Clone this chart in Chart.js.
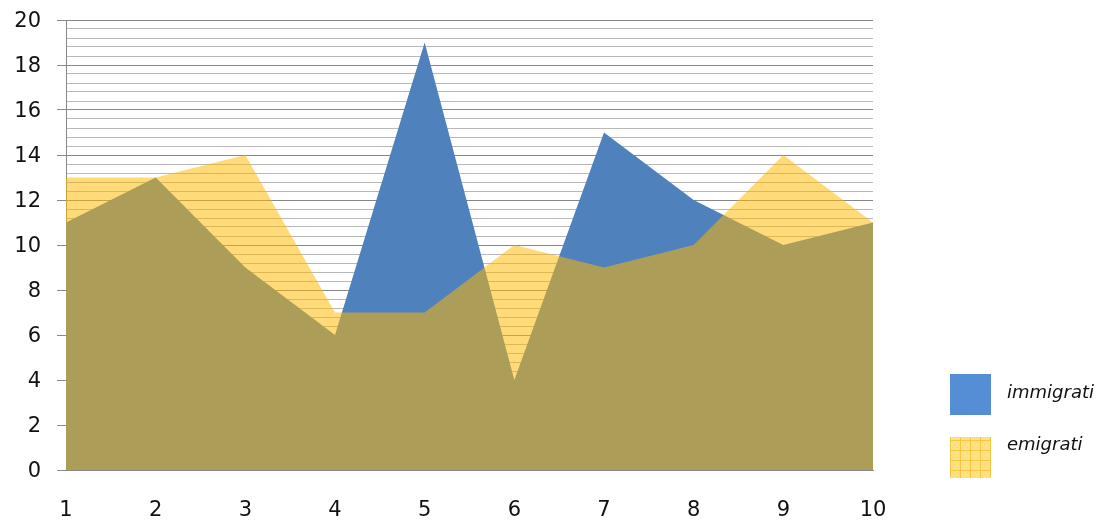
<!DOCTYPE html>
<html>
<head>
<meta charset="utf-8">
<style>
  html, body { margin: 0; padding: 0; background: #ffffff; }
  #wrap { width: 1107px; height: 523px; position: relative; }
</style>
<script src="https://cdn.jsdelivr.net/npm/chart.js@4.4.1/dist/chart.umd.min.js"></script>
</head>
<body>
<div id="wrap"><canvas id="chart" width="1107" height="523"></canvas></div>
<script>
// Categories on the horizontal axis
const categories = ['1', '2', '3', '4', '5', '6', '7', '8', '9', '10'];

// Series values
const immigrati = [11, 13, 9, 6, 19, 4, 15, 12, 10, 11];
const emigrati  = [13, 13, 14, 7, 7, 10, 9, 10, 14, 11];

// Series names
const seriesNames = ['immigrati', 'emigrati'];

// Labelled values on the vertical axis (minor grid lines fall between them)
const yLabelTicks = [0, 2, 4, 6, 8, 10, 12, 14, 16, 18, 20];
const yMinorStep = 0.4;

const BLUE = '#4F81BD';
const YELLOW_FILL = 'rgba(255, 186, 0, 0.53)';
const MAJOR_GRID = '#888888';
const MINOR_GRID = '#B8B8B8';

function isLabelled(v) {
  return yLabelTicks.some(t => Math.abs(t - v) < 1e-6);
}

// Checked yellow swatch used in the legend
function makeYellowPattern(ctx) {
  const c = document.createElement('canvas');
  c.width = 10; c.height = 10;
  const g = c.getContext('2d');
  g.fillStyle = '#FFE184';
  g.fillRect(0, 0, 10, 10);
  g.fillStyle = '#F5C842';
  g.fillRect(0, 0, 10, 1);
  g.fillRect(0, 0, 1, 10);
  g.fillStyle = '#F9D566';
  g.fillRect(4, 4, 1, 1);
  g.fillRect(7, 2, 1, 1);
  g.fillRect(2, 7, 1, 1);
  g.fillRect(7, 7, 1, 1);
  return ctx.createPattern(c, 'repeat');
}

// Legend drawn at the right side with large square swatches
const sideLegend = {
  id: 'sideLegend',
  afterDraw(chart) {
    const ctx = chart.ctx;
    const items = [
      { label: chart.data.datasets[0].label, fill: '#558ED5', y: 374, textY: 393 },
      { label: chart.data.datasets[1].label, fill: makeYellowPattern(ctx), y: 437, textY: 445 }
    ];
    ctx.save();
    items.forEach(it => {
      ctx.fillStyle = it.fill;
      ctx.fillRect(950, it.y, 41, 41);
      ctx.fillStyle = '#111111';
      ctx.font = 'italic 18px "DejaVu Sans"';
      ctx.textBaseline = 'middle';
      ctx.textAlign = 'left';
      ctx.fillText(it.label, 1007, it.textY);
    });
    ctx.restore();
  }
};

new Chart(document.getElementById('chart'), {
  type: 'line',
  data: {
    labels: categories,
    datasets: [
      {
        label: seriesNames[0],
        data: immigrati,
        fill: 'origin',
        backgroundColor: BLUE,
        borderColor: 'rgba(0,0,0,0)',
        borderWidth: 0,
        pointRadius: 0,
        tension: 0,
        order: 2
      },
      {
        label: seriesNames[1],
        data: emigrati,
        fill: 'origin',
        backgroundColor: YELLOW_FILL,
        borderColor: 'rgba(0,0,0,0)',
        borderWidth: 0,
        pointRadius: 0,
        tension: 0,
        order: 1
      }
    ]
  },
  options: {
    responsive: false,
    animation: false,
    devicePixelRatio: 1,
    layout: { padding: { top: 20, right: 234, bottom: 0, left: 0 } },
    plugins: {
      legend: { display: false },
      tooltip: { enabled: false }
    },
    scales: {
      x: {
        type: 'category',
        offset: false,
        grid: { display: false },
        border: { display: true, color: MAJOR_GRID, width: 1 },
        ticks: {
          color: '#111111',
          font: { family: 'DejaVu Sans', size: 21 },
          padding: 20,
          maxRotation: 0,
          autoSkip: false
        },
        afterFit(scale) { scale.height = 53; }
      },
      y: {
        min: 0,
        max: 20,
        grid: {
          color: ctx => isLabelled(ctx.tick.value) ? MAJOR_GRID : MINOR_GRID,
          tickColor: ctx => isLabelled(ctx.tick.value) ? MAJOR_GRID : 'rgba(0,0,0,0)',
          tickLength: 9,
          lineWidth: 1
        },
        border: { display: true, color: MAJOR_GRID, width: 1 },
        ticks: {
          stepSize: yMinorStep,
          autoSkip: false,
          color: '#111111',
          font: { family: 'DejaVu Sans', size: 21 },
          padding: 16,
          labelOffset: 2,
          callback: v => isLabelled(v) ? String(Math.round(v)) : ''
        },
        afterFit(scale) {
          scale.width = 66;
          scale.paddingTop = 0;
          scale.paddingBottom = 0;
        }
      }
    }
  },
  plugins: [sideLegend]
});
</script>
</body>
</html>
